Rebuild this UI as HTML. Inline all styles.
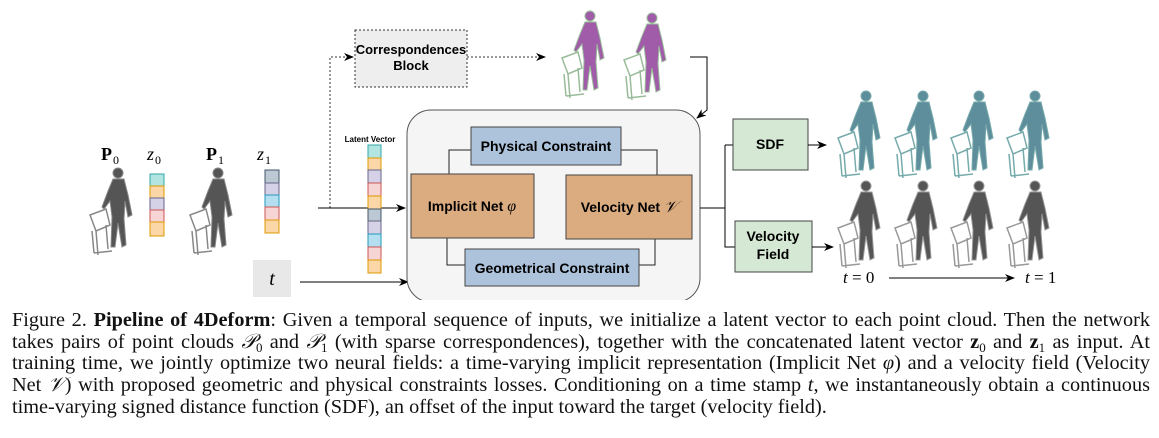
<!DOCTYPE html>
<html><head><meta charset="utf-8"><style>
body{margin:0;background:#fff;width:1159px;height:438px;overflow:hidden;position:relative;font-family:"Liberation Sans",sans-serif}
svg{position:absolute;left:0;top:0}
.cap{position:absolute;left:12px;width:1138px;font-family:"Liberation Serif",serif;font-size:20.3px;color:#111}
.cap div{height:21.7px;line-height:21.7px;text-align:justify;text-align-last:justify;white-space:nowrap}
.cap div.last{text-align-last:left}
.cap sub{font-size:13px;vertical-align:baseline;position:relative;top:4px;line-height:0}
</style></head><body>
<svg width="1159" height="300" viewBox="0 0 1159 300" font-family="Liberation Sans, sans-serif">
<defs>
<marker id="a" markerWidth="10" markerHeight="8" refX="9" refY="4" orient="auto" markerUnits="userSpaceOnUse"><path d="M0,0 L10,4 L0,8 L3,4z" fill="#000"/></marker>
<g id="hum">
 <circle cx="30" cy="8" r="5"/>
 <path d="M25,14 L36,14 L40,30 L44,50 L40,52 L37,36 L36,54 L38,80 L34,82 L30,58 L27,82 L23,82 L24,52 L22,36 L16,44 L14,42 L20,26z"/>
 <path d="M2,50 L18,44 L22,60 L8,66z M4,66 L6,88 M18,60 L20,84 M8,66 L10,90 M6,88 L24,86" fill="none" stroke-width="1.5"/>
</g>
</defs>
<g fill="#555" stroke="#888"><use href="#hum" transform="translate(88,165)"/><use href="#hum" transform="translate(188,165)"/></g>
<text x="101" y="160" font-family="Liberation Serif,serif" font-size="18" font-weight="bold">P</text><text x="113" y="164" font-family="Liberation Serif,serif" font-size="12">0</text>
<text x="147" y="160" font-family="Liberation Serif,serif" font-size="18" font-style="italic">z</text><text x="155" y="164" font-family="Liberation Serif,serif" font-size="12">0</text>
<text x="206" y="160" font-family="Liberation Serif,serif" font-size="18" font-weight="bold">P</text><text x="218" y="164" font-family="Liberation Serif,serif" font-size="12">1</text>
<text x="257" y="160" font-family="Liberation Serif,serif" font-size="18" font-style="italic">z</text><text x="265" y="164" font-family="Liberation Serif,serif" font-size="12">1</text>
<g stroke-width="1">
<rect x="150" y="174" width="14" height="12" fill="#b2e4e2" stroke="#3aa"/>
<rect x="150" y="186" width="14" height="12" fill="#fbd7a8" stroke="#d90"/>
<rect x="150" y="198" width="14" height="12" fill="#d5d2e8" stroke="#668"/>
<rect x="150" y="210" width="14" height="12" fill="#f8d5d5" stroke="#c55"/>
<rect x="150" y="222" width="14" height="14" fill="#fbd7a8" stroke="#d90"/>
<rect x="265" y="170" width="14" height="13" fill="#bcc9d5" stroke="#456"/>
<rect x="265" y="183" width="14" height="12" fill="#d5d2e8" stroke="#668"/>
<rect x="265" y="195" width="14" height="12" fill="#b4dff0" stroke="#29b"/>
<rect x="265" y="207" width="14" height="13" fill="#f8d5d5" stroke="#c55"/>
<rect x="265" y="220" width="14" height="13" fill="#fbd7a8" stroke="#d90"/>
</g>
<rect x="253" y="260" width="38" height="37" fill="#e8e8e8"/>
<text x="272" y="285" text-anchor="middle" font-family="Liberation Serif,serif" font-size="20" font-style="italic">t</text>
<path d="M330,208 L330,57 L353,57" fill="none" stroke="#333" stroke-dasharray="2,2" marker-end="url(#a)"/>
<rect x="355" y="30" width="112" height="57" fill="#eee" stroke="#333" stroke-dasharray="2,2"/>
<text x="411" y="54" text-anchor="middle" font-size="13" font-weight="bold">Correspondences</text>
<text x="411" y="70" text-anchor="middle" font-size="13" font-weight="bold">Block</text>
<path d="M467,57 L545,57" fill="none" stroke="#333" stroke-dasharray="2,2" marker-end="url(#a)"/>
<g fill="#a05ca8" stroke="#9b9"><use href="#hum" transform="translate(560,8)"/><use href="#hum" transform="translate(622,10)"/></g>
<path d="M690,57 L707,57 L707,110 L697,118" fill="none" stroke="#000" marker-end="url(#a)"/>
<path d="M318,208 L405,208" stroke="#000" marker-end="url(#a)"/>
<path d="M300,282 L408,282" stroke="#000" marker-end="url(#a)"/>
<text x="370" y="142" text-anchor="middle" font-size="8" font-weight="bold">Latent Vector</text>
<g stroke-width="1">
<rect x="368" y="145" width="13" height="13" fill="#b2e4e2" stroke="#3aa"/>
<rect x="368" y="158" width="13" height="12" fill="#fbd7a8" stroke="#d90"/>
<rect x="368" y="170" width="13" height="13" fill="#d5d2e8" stroke="#668"/>
<rect x="368" y="183" width="13" height="13" fill="#f8d5d5" stroke="#c55"/>
<rect x="368" y="196" width="13" height="13" fill="#fbd7a8" stroke="#d90"/>
<rect x="368" y="209" width="13" height="12" fill="#bcc9d5" stroke="#456"/>
<rect x="368" y="221" width="13" height="13" fill="#d5d2e8" stroke="#668"/>
<rect x="368" y="234" width="13" height="13" fill="#b4dff0" stroke="#29b"/>
<rect x="368" y="247" width="13" height="13" fill="#f8d5d5" stroke="#c55"/>
<rect x="368" y="260" width="13" height="13" fill="#fbd7a8" stroke="#d90"/>
</g>
<rect x="407" y="110" width="293" height="192" rx="24" fill="#f5f5f5" stroke="#555"/>
<path d="M449,174 L449,150 L471,150 M621,150 L657,150 L657,175 M447,238 L447,265 L465,265 M639,265 L655,265 L655,239" fill="none" stroke="#222"/>
<rect x="471" y="127" width="150" height="38" fill="#adc3db" stroke="#444"/>
<text x="546" y="151" text-anchor="middle" font-size="14" font-weight="bold">Physical Constraint</text>
<rect x="411" y="174" width="123" height="64" fill="#dbac80" stroke="#444"/>
<text x="472" y="211" text-anchor="middle" font-size="14" font-weight="bold">Implicit Net <tspan font-family="Liberation Serif,serif" font-style="italic" font-weight="normal" font-size="16">φ</tspan></text>
<rect x="566" y="175" width="126" height="64" fill="#dbac80" stroke="#444"/>
<text x="629" y="212" text-anchor="middle" font-size="14" font-weight="bold">Velocity Net <tspan font-family="Liberation Serif,serif" font-style="italic" font-weight="normal" font-size="16">𝒱</tspan></text>
<rect x="465" y="249" width="174" height="37" fill="#adc3db" stroke="#444"/>
<text x="552" y="273" text-anchor="middle" font-size="14" font-weight="bold">Geometrical Constraint</text>
<path d="M700,208 L725,208 M725,145 L725,247 L735,247 M725,145 L733,145" fill="none" stroke="#000"/>
<rect x="733" y="119" width="75" height="51" fill="#d5e8d4" stroke="#444"/>
<text x="770" y="149" text-anchor="middle" font-size="14" font-weight="bold">SDF</text>
<rect x="735" y="221" width="77" height="51" fill="#d5e8d4" stroke="#444"/>
<text x="773" y="241" text-anchor="middle" font-size="14" font-weight="bold">Velocity</text>
<text x="773" y="259" text-anchor="middle" font-size="14" font-weight="bold">Field</text>
<path d="M808,145 L826,145" stroke="#000" marker-end="url(#a)"/>
<path d="M812,247 L833,247" stroke="#000" marker-end="url(#a)"/>
<g fill="#5e8e9c" stroke="#7aa"><use href="#hum" transform="translate(836,88)"/><use href="#hum" transform="translate(893,88)"/><use href="#hum" transform="translate(949,88)"/><use href="#hum" transform="translate(1005,88)"/></g>
<g fill="#555" stroke="#999"><use href="#hum" transform="translate(836,178)"/><use href="#hum" transform="translate(893,178)"/><use href="#hum" transform="translate(949,178)"/><use href="#hum" transform="translate(1005,178)"/></g>
<text x="843" y="283" font-family="Liberation Serif,serif" font-size="17"><tspan font-style="italic">t</tspan> = 0</text>
<path d="M889,278 L1014,278" stroke="#000" marker-end="url(#a)"/>
<text x="1025" y="283" font-family="Liberation Serif,serif" font-size="17"><tspan font-style="italic">t</tspan> = 1</text>
</svg>
<div class="cap" style="top:310px">
<div>Figure 2. <b>Pipeline of 4Deform</b>: Given a temporal sequence of inputs, we initialize a latent vector to each point cloud. Then the network</div>
<div>takes pairs of point clouds <i>𝒫</i><sub>0</sub> and <i>𝒫</i><sub>1</sub> (with sparse correspondences), together with the concatenated latent vector <b>z</b><sub>0</sub> and <b>z</b><sub>1</sub> as input. At</div>
<div>training time, we jointly optimize two neural fields: a time-varying implicit representation (Implicit Net <i>φ</i>) and a velocity field (Velocity</div>
<div>Net <i>𝒱</i>) with proposed geometric and physical constraints losses. Conditioning on a time stamp <i>t</i>, we instantaneously obtain a continuous</div>
<div class="last">time-varying signed distance function (SDF), an offset of the input toward the target (velocity field).</div>
</div>
</body></html>
